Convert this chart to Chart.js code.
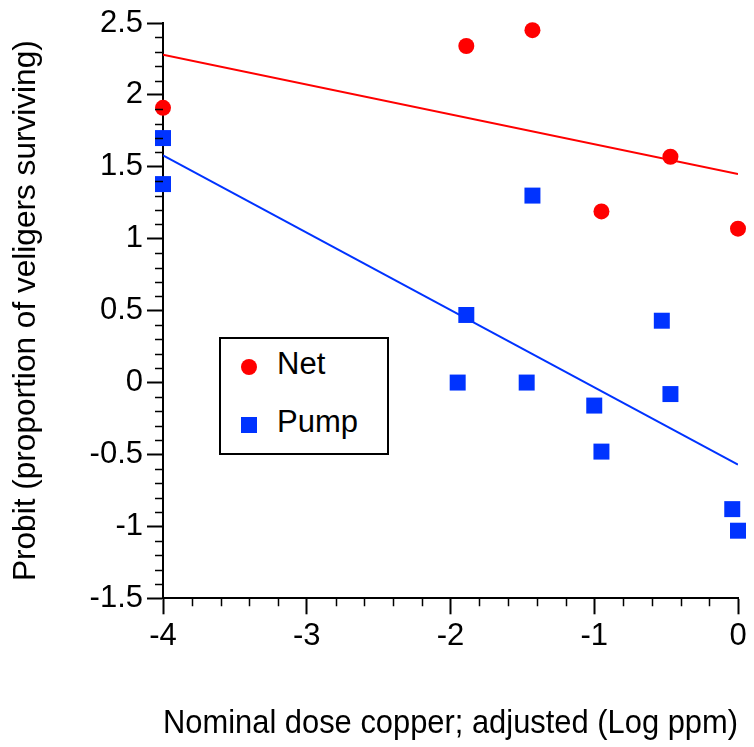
<!DOCTYPE html>
<html><head><meta charset="utf-8">
<script src="https://cdn.jsdelivr.net/npm/chart.js@4/dist/chart.umd.min.js"></script>
<style>
html,body{margin:0;padding:0;background:#fff;}
#wrap{position:relative;width:754px;height:747px;}
#c{position:absolute;left:0;top:0;}
#legend{position:absolute;left:219px;top:337px;width:166px;height:114px;border:2px solid #000;background:#fff;font-family:"Liberation Sans",Arial,sans-serif;font-size:31px;line-height:31px;color:#000;}
#legend .mk{position:absolute;width:16px;height:16px;}
#legend .tx{position:absolute;white-space:nowrap;}
</style>
</head><body>
<div id="wrap">
<canvas id="c" width="754" height="747"></canvas>
<div id="legend">
  <div class="mk" style="left:19.7px;top:19.7px;border-radius:50%;background:#ff0000"></div>
  <div class="tx" style="left:56px;top:9px">Net</div>
  <div class="mk" style="left:19.7px;top:78.3px;background:#0033ff"></div>
  <div class="tx" style="left:56px;top:66.5px">Pump</div>
</div>
</div>
<script>
// Data
const netX = [-4, -1.89, -1.43, -0.95, -0.47, 0];
const netY = [1.91, 2.34, 2.45, 1.19, 1.57, 1.07];
const pumpX = [-4, -4, -1.95, -1.89, -1.47, -1.43, -1.0, -0.95, -0.53, -0.47, -0.04, 0];
const pumpY = [1.70, 1.38, 0.0, 0.47, 0.0, 1.30, -0.16, -0.48, 0.43, -0.08, -0.88, -1.03];
const netFitX = [-4, 0];
const netFitY = [2.28, 1.45];
const pumpFitX = [-4, 0];
const pumpFitY = [1.58, -0.57];

const xTitle = 'Nominal dose copper; adjusted (Log ppm)';
const yTitle = 'Probit (proportion of veligers surviving)';

const RED = '#ff0000', BLUE = '#0033ff';
const FONT = '"Liberation Sans", Arial, sans-serif';

const pts = (xs, ys) => xs.map((x, i) => ({x, y: ys[i]}));
const fmt = v => String(+Number(v).toFixed(2));

const minorTicks = {
  id: 'minorTicks',
  afterDraw(chart) {
    const {ctx, scales: {x, y}, chartArea: a} = chart;
    ctx.save();
    ctx.strokeStyle = '#000';
    ctx.lineWidth = 1.5;
    ctx.beginPath();
    for (let k = -15; k <= 25; k++) {
      if (k % 5 === 0) continue;
      const py = Math.round(y.getPixelForValue(k / 10)) + 0.5;
      ctx.moveTo(a.left - 8, py); ctx.lineTo(a.left, py);
    }
    for (let k = -20; k <= 0; k++) {
      if (k % 5 === 0) continue;
      const px = Math.round(x.getPixelForValue(k / 5)) + 0.5;
      ctx.moveTo(px, a.bottom); ctx.lineTo(px, a.bottom + 8);
    }
    ctx.stroke();
    ctx.restore();
  }
};

new Chart(document.getElementById('c'), {
  type: 'scatter',
  data: {
    datasets: [
      {label: 'Net', data: pts(netX, netY), pointStyle: 'circle', pointRadius: 8, pointHoverRadius: 8,
       backgroundColor: RED, borderColor: RED, borderWidth: 0, clip: false, order: 1},
      {label: 'Pump', data: pts(pumpX, pumpY), pointStyle: 'rect', pointRadius: 11.3, pointHoverRadius: 11.3,
       backgroundColor: BLUE, borderColor: BLUE, borderWidth: 0, clip: false, order: 2},
      {label: 'Net fit', data: pts(netFitX, netFitY), showLine: true, pointRadius: 0, borderColor: RED, borderWidth: 2, order: 3},
      {label: 'Pump fit', data: pts(pumpFitX, pumpFitY), showLine: true, pointRadius: 0, borderColor: BLUE, borderWidth: 2, order: 4}
    ]
  },
  options: {
    responsive: false,
    animation: false,
    events: [],
    layout: {padding: {left: 0, right: 16, top: 23, bottom: 0}},
    plugins: {legend: {display: false}, tooltip: {enabled: false}},
    scales: {
      x: {
        type: 'linear', min: -4, max: 0,
        ticks: {stepSize: 1, color: '#000', font: {family: FONT, size: 31}, padding: 4, callback: fmt},
        grid: {drawOnChartArea: false, drawTicks: true, tickLength: 16, tickWidth: 2, tickColor: '#000', color: '#000'},
        border: {display: true, color: '#000', width: 2},
        title: {display: true, text: xTitle, color: '#000', font: {family: FONT, size: 32.7}, padding: {top: 4, bottom: 3}},
        afterFit(s) { s.height = 148.7; }
      },
      y: {
        type: 'linear', min: -1.5, max: 2.5,
        ticks: {stepSize: 0.5, color: '#000', font: {family: FONT, size: 31}, padding: 4, callback: fmt},
        grid: {drawOnChartArea: false, drawTicks: true, tickLength: 16, tickWidth: 2, tickColor: '#000', color: '#000'},
        border: {display: true, color: '#000', width: 2},
        title: {display: true, text: yTitle, color: '#000', font: {family: FONT, size: 31.6}, padding: {top: 7, bottom: 4}},
        afterFit(s) { s.width = 163; }
      }
    }
  },
  plugins: [minorTicks]
});
</script>
</body></html>
